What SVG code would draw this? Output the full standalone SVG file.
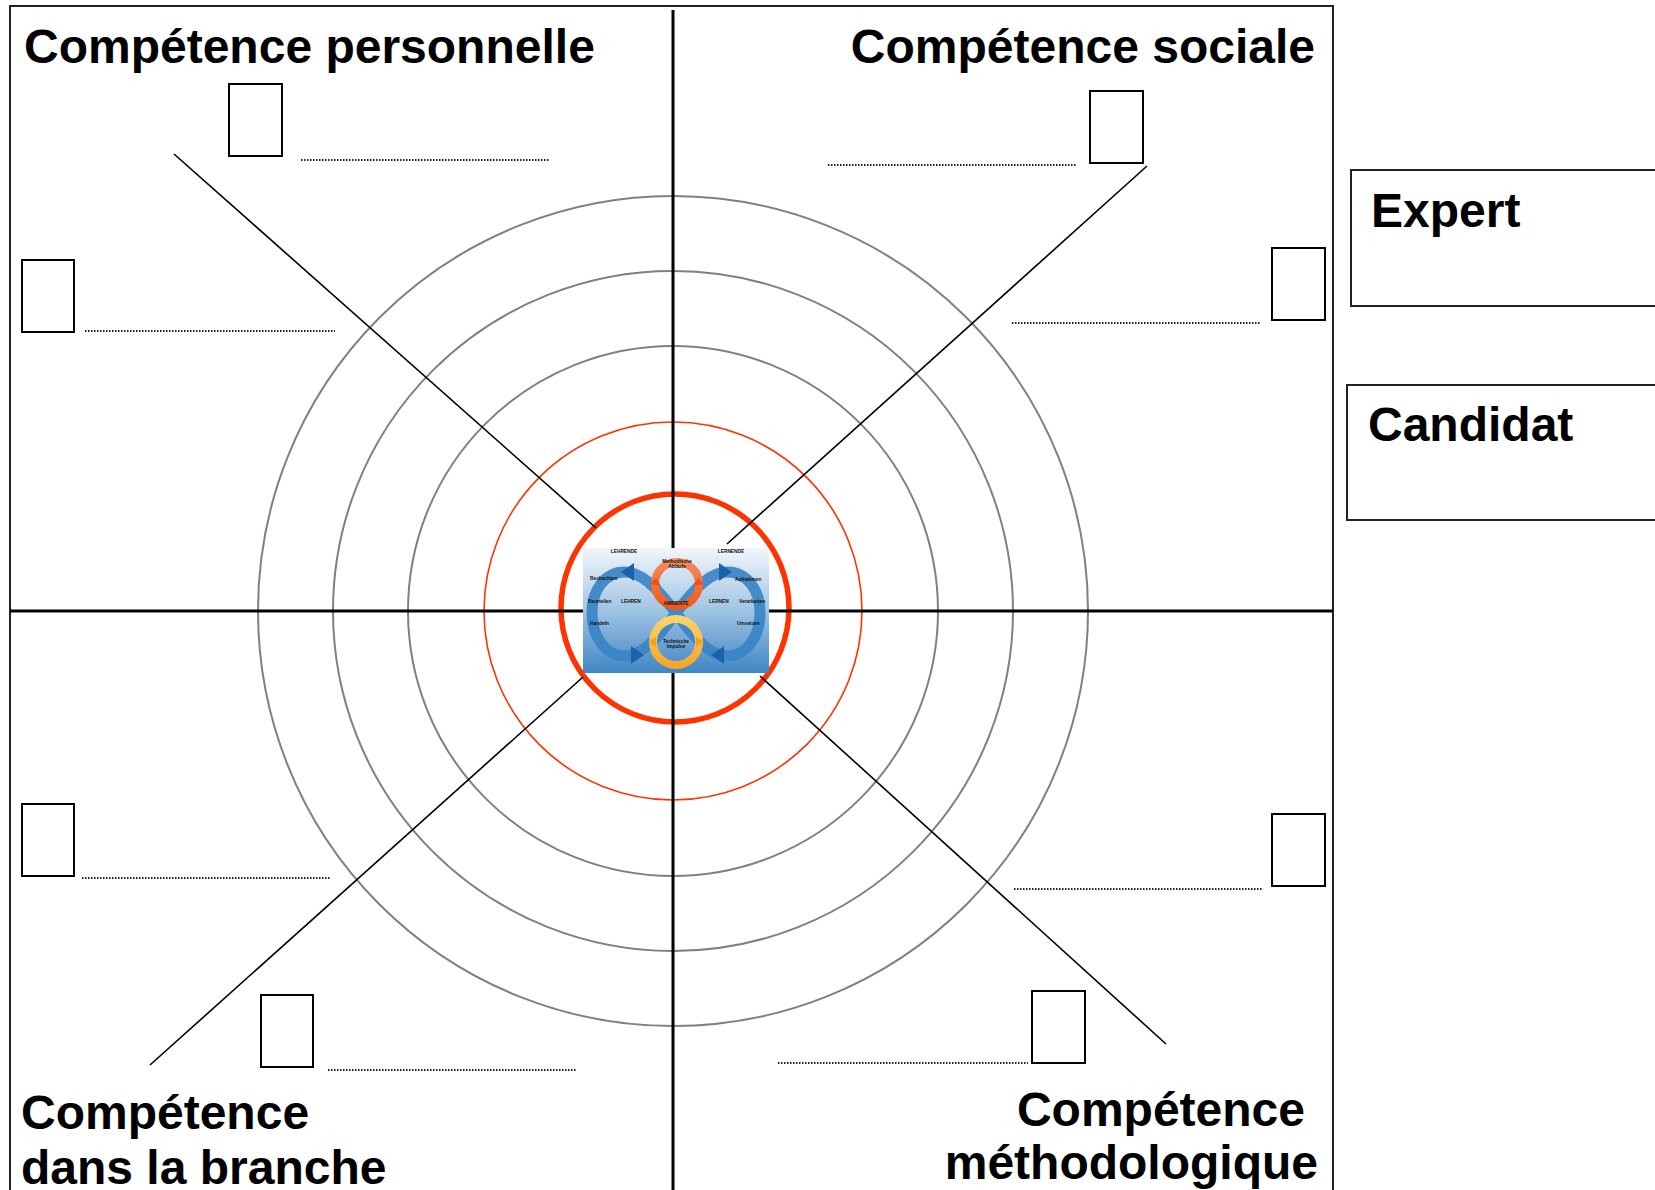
<svg xmlns="http://www.w3.org/2000/svg" width="1655" height="1190" viewBox="0 0 1655 1190">
<style>
.title{font-family:"Liberation Sans",Arial,sans-serif;font-weight:bold;font-size:48px;fill:#000}
.box{fill:#fff;stroke:#000;stroke-width:2}
.dot{stroke:#222;stroke-width:2;stroke-dasharray:1.5 1.5;fill:none}
.diag{stroke:#000;stroke-width:1.6;fill:none}
.ring{fill:none;stroke:#808080;stroke-width:2}
.red{fill:none;stroke:#ff3300}
.tiny{font-family:"Liberation Sans",Arial,sans-serif;font-weight:bold;font-size:4.8px;fill:#111}
</style>
<defs>
<linearGradient id="bg" x1="0" y1="0" x2="0" y2="1">
<stop offset="0" stop-color="#f2f6fb"/>
<stop offset="0.45" stop-color="#a9c9e6"/>
<stop offset="1" stop-color="#3f86c4"/>
</linearGradient>
<linearGradient id="or" x1="0" y1="0" x2="0" y2="1">
<stop offset="0" stop-color="#f6895a"/>
<stop offset="1" stop-color="#ee5a1c"/>
</linearGradient>
<linearGradient id="ye" x1="0" y1="0" x2="0" y2="1">
<stop offset="0" stop-color="#fbd36a"/>
<stop offset="1" stop-color="#f4a72a"/>
</linearGradient>
</defs>
<rect width="1655" height="1190" fill="#fff"/>

<g id="frame">
<rect x="10" y="6" width="1323" height="1200" fill="none" stroke="#222" stroke-width="2"/>
</g>

<g id="target">
<circle class="ring" cx="673" cy="611" r="415"/>
<circle class="ring" cx="673" cy="611" r="340"/>
<circle class="ring" cx="673" cy="611" r="265"/>
<circle class="red" cx="673" cy="611" r="189" stroke-width="1.6"/>
<circle class="red" cx="675" cy="608" r="114" stroke-width="5.5"/>
</g>

<g id="connectors">
<line x1="673" y1="10" x2="673" y2="1190" stroke="#000" stroke-width="3"/>
<line x1="10" y1="611" x2="1333" y2="611" stroke="#000" stroke-width="3"/>
<line class="diag" x1="174" y1="154" x2="596" y2="528"/>
<line class="diag" x1="1147" y1="166" x2="727" y2="544"/>
<line class="diag" x1="150" y1="1065" x2="583" y2="677"/>
<line class="diag" x1="760" y1="676" x2="1166" y2="1044"/>
</g>

<g id="center-image">
<rect x="583" y="548" width="186" height="125" fill="url(#bg)"/>
<path d="M676 613 C697 642 712 656 727 656 C747 656 760 636 760 613 C760 590 747 572 727 572 C712 572 697 585 676 613 C655 642 640 656 625 656 C605 656 592 636 592 613 C592 590 605 572 625 572 C640 572 655 585 676 613 Z" fill="none" stroke="#3a84c6" stroke-width="11" stroke-opacity="0.92"/>
<polygon points="621,572 634,563 634,581" fill="#1c62ab"/>
<polygon points="644,655 631,646 631,664" fill="#1c62ab"/>
<polygon points="732,572 719,563 719,581" fill="#1c62ab"/>
<polygon points="711,655 724,646 724,664" fill="#1c62ab"/>
<circle cx="677" cy="584" r="22" fill="none" stroke="url(#or)" stroke-width="8"/>
<circle cx="676" cy="642" r="23" fill="none" stroke="url(#ye)" stroke-width="8"/>
<polygon points="650,584 656,578 661,586" fill="#e8531a"/>
<polygon points="704,584 698,578 693,586" fill="#e8531a"/>
<polygon points="648,642 656,637 656,647" fill="#f3a020"/>
<polygon points="704,642 696,637 696,647" fill="#f3a020"/>
<text class="tiny" x="624" y="553" text-anchor="middle">LEHRENDE</text>
<text class="tiny" x="731" y="553" text-anchor="middle">LERNENDE</text>
<text class="tiny" x="677" y="563" text-anchor="middle">Methodische</text>
<text class="tiny" x="677" y="568" text-anchor="middle">Abläufe</text>
<text class="tiny" x="590" y="580">Beobachten</text>
<text class="tiny" x="588" y="603">Beurteilen</text>
<text class="tiny" x="621" y="603">LEHREN</text>
<text class="tiny" x="590" y="625">Handeln</text>
<text class="tiny" x="676" y="605" text-anchor="middle">AMBIENTE</text>
<text class="tiny" x="709" y="603">LERNEN</text>
<text class="tiny" x="739" y="603">Verarbeiten</text>
<text class="tiny" x="735" y="581">Aufnehmen</text>
<text class="tiny" x="737" y="625">Umsetzen</text>
<text class="tiny" x="676" y="643" text-anchor="middle">Technische</text>
<text class="tiny" x="676" y="648" text-anchor="middle">Impulse</text>
</g>

<g id="node-tl1"><rect class="box" x="229" y="84" width="53" height="72"/><line class="dot" x1="301" y1="160" x2="550" y2="160"/></g>
<g id="node-tl2"><rect class="box" x="22" y="260" width="52" height="72"/><line class="dot" x1="85" y1="331" x2="335" y2="331"/></g>
<g id="node-tr1"><rect class="box" x="1090" y="91" width="53" height="72"/><line class="dot" x1="828" y1="165" x2="1077" y2="165"/></g>
<g id="node-tr2"><rect class="box" x="1272" y="248" width="53" height="72"/><line class="dot" x1="1012" y1="323" x2="1261" y2="323"/></g>
<g id="node-bl1"><rect class="box" x="22" y="804" width="52" height="72"/><line class="dot" x1="82" y1="878" x2="330" y2="878"/></g>
<g id="node-bl2"><rect class="box" x="261" y="995" width="52" height="72"/><line class="dot" x1="328" y1="1070" x2="576" y2="1070"/></g>
<g id="node-br1"><rect class="box" x="1272" y="814" width="53" height="72"/><line class="dot" x1="1014" y1="889" x2="1263" y2="889"/></g>
<g id="node-br2"><rect class="box" x="1032" y="991" width="53" height="72"/><line class="dot" x1="778" y1="1063" x2="1028" y2="1063"/></g>

<g id="title-personnelle"><text class="title" x="24" y="63">Compétence personnelle</text></g>
<g id="title-sociale"><text class="title" x="1315" y="63" text-anchor="end">Compétence sociale</text></g>
<g id="title-branche"><text class="title" x="21" y="1129">Compétence</text><text class="title" x="21" y="1184">dans la branche</text></g>
<g id="title-methodo"><text class="title" x="1305" y="1126" text-anchor="end">Compétence</text><text class="title" x="1318" y="1179" text-anchor="end">méthodologique</text></g>

<g id="expert"><rect x="1351" y="170" width="320" height="136" fill="#fff" stroke="#222" stroke-width="2"/><text class="title" x="1371" y="227">Expert</text></g>
<g id="candidat"><rect x="1347" y="385" width="320" height="135" fill="#fff" stroke="#222" stroke-width="2"/><text class="title" x="1368" y="441">Candidat</text></g>
</svg>
